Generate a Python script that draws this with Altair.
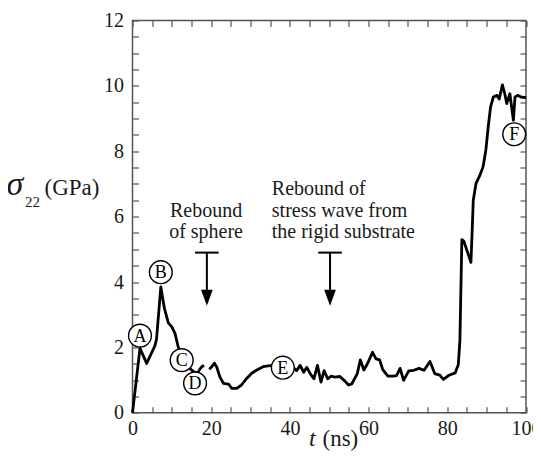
import altair as alt
import pandas as pd

# ---- data ----
t_seg1 = [0, 1.9, 3.6, 5.7, 6.1, 7.2, 8.1, 9.1, 10.0, 10.8, 11.6, 12.6, 13.6, 14.6, 15.6, 16.6, 17.2, 17.7, 18.2]
s_seg1 = [0, 1.97, 1.51, 2.05, 2.25, 3.85, 3.2, 2.75, 2.63, 2.43, 2.02, 1.7, 1.5, 1.35, 1.25, 1.22, 1.35, 1.42, 1.45]

t_seg2 = [19.5, 20.1, 20.8, 21.4, 22.2, 23.1, 24.4, 25.2, 26.5, 27.7, 29.0, 30.3, 31.6, 33.2, 34.9, 36.5, 38.0, 40.0,
          40.8, 41.7, 42.6, 43.5, 44.3, 45.2, 46.1, 47.0, 47.9, 48.7, 49.6, 50.5, 51.4, 52.7, 54.0, 54.9, 55.7,
          57.1, 57.9, 58.8, 59.7, 61.0, 61.9, 62.8, 63.6, 64.9, 66.3, 67.1, 68.0, 68.9, 70.2, 71.5, 72.8, 74.1,
          75.6, 76.8, 78.1, 79.0, 80.3, 82.0, 82.8, 83.2, 83.7, 84.2, 86.0, 86.3, 86.6, 87.3, 88.3, 89.1, 89.8,
          90.4, 91.0, 91.7, 92.6, 93.2, 94.0, 94.7, 95.1, 95.9, 96.8, 97.2, 97.9, 98.7, 100.0]
s_seg2 = [1.33, 1.40, 1.52, 1.40, 1.10, 0.90, 0.88, 0.75, 0.75, 0.85, 1.05, 1.21, 1.31, 1.41, 1.44, 1.45, 1.43, 1.42,
          1.39, 1.29, 1.45, 1.24, 1.39, 1.19, 1.04, 1.45, 0.94, 1.29, 1.04, 1.12, 1.09, 1.11, 0.97, 0.85, 0.88,
          1.19, 1.62, 1.31, 1.50, 1.85, 1.65, 1.62, 1.32, 1.12, 1.12, 1.14, 1.36, 0.99, 1.28, 1.30, 1.36, 1.30,
          1.57, 1.20, 1.15, 1.02, 1.14, 1.22, 1.48, 2.2, 5.3, 5.25, 4.6, 5.5, 6.5, 7.02, 7.27, 7.53, 8.04,
          8.75, 9.36, 9.66, 9.71, 9.6, 10.03, 9.71, 9.46, 9.76, 8.95, 9.66, 9.71, 9.66, 9.64]

point_labels = ["A", "B", "C", "D", "E", "F"]
point_t = [1.9, 7.2, 12.5, 15.9, 38.2, 97.0]
point_s = [2.36, 4.30, 1.61, 0.90, 1.38, 8.52]

ann_left_text = ["Rebound", "of sphere"]
ann_left_t = [18.7, 18.7]
ann_left_s = [6.0, 5.35]
ann_right_text = ["Rebound of", "stress wave from", "the rigid substrate"]
ann_right_t = [35.4, 35.4, 35.4]
ann_right_s = [6.66, 6.0, 5.35]

arrow_t = [18.9, 50.2]
arrow_bar_left = [15.9, 47.2]
arrow_bar_right = [21.9, 53.2]
arrow_top = [4.9, 4.9]
arrow_neck = [3.7, 3.7]
arrow_head = [3.52, 3.52]

x_major = [0, 20, 40, 60, 80, 100]
y_major = [0, 2, 4, 6, 8, 10, 12]
x_minor = [0, 5, 10, 15, 20, 25, 30, 35, 40, 45, 50, 55, 60, 65, 70, 75, 80, 85, 90, 95, 100]
y_minor = [0, 0.5, 1, 1.5, 2, 2.5, 3, 3.5, 4, 4.5, 5, 5.5, 6, 6.5, 7, 7.5, 8, 8.5, 9, 9.5, 10, 10.5, 11, 11.5, 12]

# ---- tables ----
df_line = pd.DataFrame({
    "t": t_seg1 + t_seg2,
    "s": s_seg1 + s_seg2,
    "seg": ["a"] * len(t_seg1) + ["b"] * len(t_seg2),
})
df_pts = pd.DataFrame({"t": point_t, "s": point_s, "lab": point_labels})
df_annL = pd.DataFrame({"t": ann_left_t, "s": ann_left_s, "txt": ann_left_text})
df_annR = pd.DataFrame({"t": ann_right_t, "s": ann_right_s, "txt": ann_right_text})
df_arr = pd.DataFrame({"t": arrow_t, "tl": arrow_bar_left, "tr": arrow_bar_right,
                       "top": arrow_top, "neck": arrow_neck, "head": arrow_head})

W, H = 393.5, 392.3
FONT = "Liberation Serif, Times New Roman, Times, serif"
TXT = "#1a1a1a"
FRAME = "#555555"

xs = alt.Scale(domain=[0, 100], nice=False, zero=False)
ys = alt.Scale(domain=[0, 12], nice=False, zero=False)

main_x = alt.Axis(orient="bottom", values=x_major, ticks=False, tickSize=0, domain=False, grid=False,
                  labelFont=FONT, labelFontSize=20, labelColor=TXT, labelPadding=6,
                  labelFlush=False, labelOverlap=False, title=None)
main_y = alt.Axis(orient="left", values=y_major, ticks=False, tickSize=0, domain=False, grid=False,
                  labelFont=FONT, labelFontSize=20, labelColor=TXT, labelPadding=9,
                  labelOverlap=False, title=None)


def tick_axis(orient, values, offset):
    return alt.Axis(orient=orient, values=values, offset=offset, labels=False, ticks=True, tickSize=6,
                    tickColor=FRAME, tickWidth=1.2, domain=False, grid=False, title=None)


line = alt.Chart(df_line).mark_line(color="black", strokeWidth=2.8, strokeJoin="round").encode(
    x=alt.X("t:Q", scale=xs, axis=main_x),
    y=alt.Y("s:Q", scale=ys, axis=main_y),
    detail="seg:N",
)

circles = alt.Chart(df_pts).mark_point(shape="circle", size=520, filled=True, fill="white",
                                       stroke="black", strokeWidth=1.4, opacity=1).encode(
    x=alt.X("t:Q", scale=xs, axis=tick_axis("top", x_minor, -H)),
    y=alt.Y("s:Q", scale=ys, axis=tick_axis("right", y_minor, -W)),
)

letters = alt.Chart(df_pts).mark_text(font=FONT, fontSize=18, color="black", baseline="middle",
                                      align="center", dy=1).encode(
    x=alt.X("t:Q", scale=xs, axis=tick_axis("bottom", x_minor, -H)),
    y=alt.Y("s:Q", scale=ys, axis=tick_axis("left", y_minor, -W)),
    text="lab:N",
)

annL = alt.Chart(df_annL).mark_text(font=FONT, fontSize=20, color=TXT, align="center",
                                    baseline="alphabetic").encode(
    x=alt.X("t:Q", scale=xs, axis=None), y=alt.Y("s:Q", scale=ys, axis=None), text="txt:N")
annR = alt.Chart(df_annR).mark_text(font=FONT, fontSize=20, color=TXT, align="left",
                                    baseline="alphabetic").encode(
    x=alt.X("t:Q", scale=xs, axis=None), y=alt.Y("s:Q", scale=ys, axis=None), text="txt:N")

bar = alt.Chart(df_arr).mark_rule(color="black", strokeWidth=2).encode(
    x=alt.X("tl:Q", scale=xs, axis=None), x2="tr:Q", y=alt.Y("top:Q", scale=ys, axis=None))
stem = alt.Chart(df_arr).mark_rule(color="black", strokeWidth=2).encode(
    x=alt.X("t:Q", scale=xs, axis=None), y=alt.Y("top:Q", scale=ys, axis=None), y2="neck:Q")
head = alt.Chart(df_arr).mark_point(shape="M-0.73,-1L0.73,-1L0,1Z", size=256, filled=True,
                                    color="black", opacity=1).encode(
    x=alt.X("t:Q", scale=xs, axis=None), y=alt.Y("head:Q", scale=ys, axis=None))

one = pd.DataFrame({"k": [0]})
sigma = alt.Chart(one).mark_text(font=FONT, fontSize=34, fontStyle="italic", color=TXT, align="left",
                                 baseline="alphabetic").encode(
    x=alt.value(-126), y=alt.value(174.5), text=alt.value("σ"))
sub22 = alt.Chart(one).mark_text(font=FONT, fontSize=15, color=TXT, align="left",
                                 baseline="alphabetic").encode(
    x=alt.value(-107.5), y=alt.value(186.5), text=alt.value("22"))
gpa = alt.Chart(one).mark_text(font=FONT, fontSize=23, color=TXT, align="left",
                               baseline="alphabetic").encode(
    x=alt.value(-88), y=alt.value(174.5), text=alt.value("(GPa)"))
t_it = alt.Chart(one).mark_text(font=FONT, fontSize=24, fontStyle="italic", color=TXT, align="left",
                                baseline="alphabetic").encode(
    x=alt.value(176.5), y=alt.value(426), text=alt.value("t"))
ns = alt.Chart(one).mark_text(font=FONT, fontSize=23, color=TXT, align="left",
                              baseline="alphabetic").encode(
    x=alt.value(190), y=alt.value(426), text=alt.value("(ns)"))

chart = alt.layer(
    line, circles, letters, annL, annR, bar, stem, head, sigma, sub22, gpa, t_it, ns
).resolve_axis(x="independent", y="independent").properties(
    width=W, height=H,
    autosize=alt.AutoSizeParams(type="none"),
    padding={"left": 124.5, "top": 12.5, "right": 7, "bottom": 40},
    background="white",
).configure_view(stroke=FRAME, strokeWidth=1.5)

chart.save("out.html", embed_options={"renderer": "svg", "actions": False})
